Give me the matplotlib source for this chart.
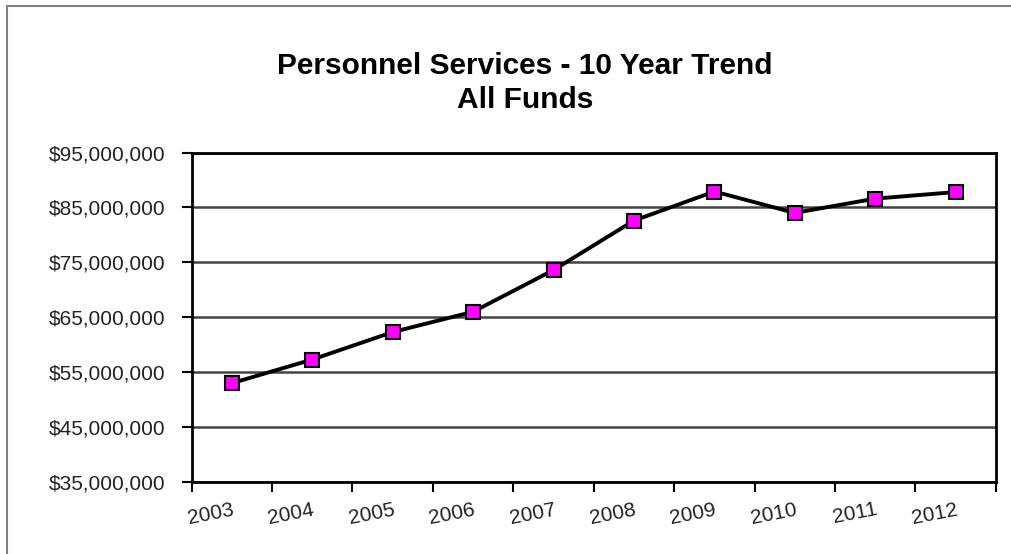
import numpy as np
import matplotlib.pyplot as plt
from matplotlib.patches import Rectangle
from matplotlib.ticker import FuncFormatter

years = ["2003", "2004", "2005", "2006", "2007", "2008", "2009", "2010", "2011", "2012"]
spending = [53.0, 57.3, 62.3, 66.0, 73.6, 82.6, 87.9, 84.0, 86.6, 87.8]  # millions of dollars
y_ticks = [35, 45, 55, 65, 75, 85, 95]

plt.rcParams['font.family'] = ['Liberation Sans', 'DejaVu Sans']

fig = plt.figure(figsize=(10.12, 5.54), dpi=100)
ax = fig.add_axes([0.1894, 0.130, 0.7946, 0.5947])

# outer chart frame
fig.patches.append(Rectangle((7 / 1012, -0.1), 1.2, 1 - 6 / 554 + 0.1, transform=fig.transFigure,
                             fill=False, edgecolor='#808080', linewidth=1.5))

x = np.arange(len(years)) + 0.5
vals = np.array(spending) * 1e6
ax.plot(x, vals, color='black', linewidth=2.8, marker='s', markersize=10.5,
        markerfacecolor='#ff00ff', markeredgecolor='black', markeredgewidth=1.5, zorder=3)

ax.set_xlim(0, len(years))
ax.set_ylim(35e6, 95e6)
ax.set_yticks([v * 1e6 for v in y_ticks])
ax.yaxis.set_major_formatter(FuncFormatter(lambda v, p: '${:,.0f}'.format(v)))
ax.grid(axis='y', color='#444444', linewidth=1.8)
ax.set_axisbelow(True)

ax.set_xticks(np.arange(len(years) + 1))
ax.set_xticklabels([])
ax.set_xticks(x, minor=True)
ax.set_xticklabels(years, minor=True, rotation=11, ha='right', rotation_mode='anchor')
ax.tick_params(axis='x', which='minor', length=0, pad=13, labelsize=15, labelcolor='#222222')
ax.tick_params(axis='x', which='major', length=7, width=1.5, direction='out')
ax.tick_params(axis='y', length=7, width=1.5, pad=12, labelsize=15, labelcolor='#222222')

for s in ax.spines.values():
    s.set_linewidth(2)
    s.set_color('black')

fig.text(0.519, 1 - 74 / 554, 'Personnel Services - 10 Year Trend', ha='center', va='baseline',
         fontsize=21.5, fontweight='bold')
fig.text(0.519, 1 - 108 / 554, 'All Funds', ha='center', va='baseline',
         fontsize=21.5, fontweight='bold')

fig.savefig('out.png', dpi=100)
